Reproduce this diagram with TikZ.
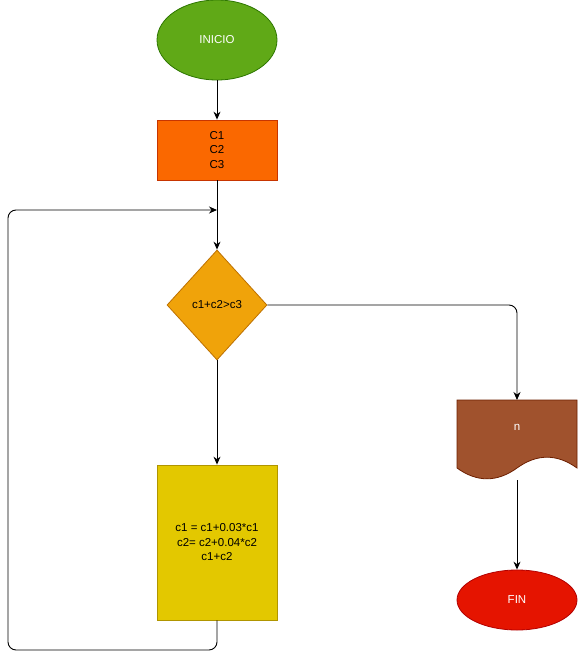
\documentclass[tikz,border=0pt]{standalone}
\usepackage{fontspec}
\setmainfont{Liberation Sans}
\usetikzlibrary{shapes.geometric,arrows.meta}
\definecolor{gfill}{HTML}{60A917}\definecolor{gdraw}{HTML}{2D7600}
\definecolor{ofill}{HTML}{FA6800}\definecolor{odraw}{HTML}{C73500}
\definecolor{afill}{HTML}{F0A30A}\definecolor{adraw}{HTML}{BD7000}
\definecolor{yfill}{HTML}{E3C800}\definecolor{ydraw}{HTML}{B09500}
\definecolor{bfill}{HTML}{A0522D}\definecolor{bdraw}{HTML}{6D1F00}
\definecolor{rfill}{HTML}{E51400}\definecolor{rdraw}{HTML}{B20000}
\tikzset{
  base/.style={font=\fontsize{11.5}{14.5}\selectfont, align=center, inner sep=0pt, line width=0.8pt},
  term/.style={base, ellipse, minimum width=120pt, minimum height=#1},
  procbox/.style={base, rectangle, minimum width=120pt},
  conn/.style={line width=0.9pt, -{Stealth[length=8pt,width=7pt]}, rounded corners=8pt}
}
\begin{document}
\begin{tikzpicture}[x=1pt,y=-1pt]
\useasboundingbox (0,0) rectangle (578,659);
\node[term=80pt, fill=gfill, draw=gdraw, text=white] (ini) at (217,40) {INICIO};
\node[procbox, minimum height=60pt, fill=ofill, draw=odraw] (cs) at (217,150) {C1\\C2\\C3};
\node[base, diamond, aspect=0.909, minimum width=100pt, minimum height=110pt, fill=afill, draw=adraw] (dec) at (217,305) {};
\node[base] (dectext) at (217,305) {c1+c2>c3};
\node[procbox, minimum height=155pt, fill=yfill, draw=ydraw] (calc) at (217,542.5) {c1 = c1+0.03*c1\\c2= c2+0.04*c2\\c1+c2};
% document shape
\draw[line width=0.8pt, fill=bfill, draw=bdraw] (457,400) -- (577,400) -- (577,468)
  .. controls (557,453.6) and (537,453.6) .. (517,468)
  .. controls (497,482.4) and (477,482.4) .. (457,468) -- cycle;
\coordinate (doctop) at (517,400);
\coordinate (docbot) at (517,480);
\node[base, text=white] (ntext) at (517,427) {n};
\node[term=60pt, fill=rfill, draw=rdraw, text=white] (fin) at (517,600) {FIN};
\coordinate (mid) at (217,210);
% connectors
\draw[conn] (ini) -- (cs);
\draw[conn] (cs) -- (dec);
\draw[conn] (dec) -- (calc);
\draw[conn] (dec.east) -- (517,305) -- (doctop);
\draw[conn] (docbot) -- (fin);
\draw[conn] (calc.south) -- (217,650) -- (8,650) -- (8,210) -- (mid);
\end{tikzpicture}
\end{document}
